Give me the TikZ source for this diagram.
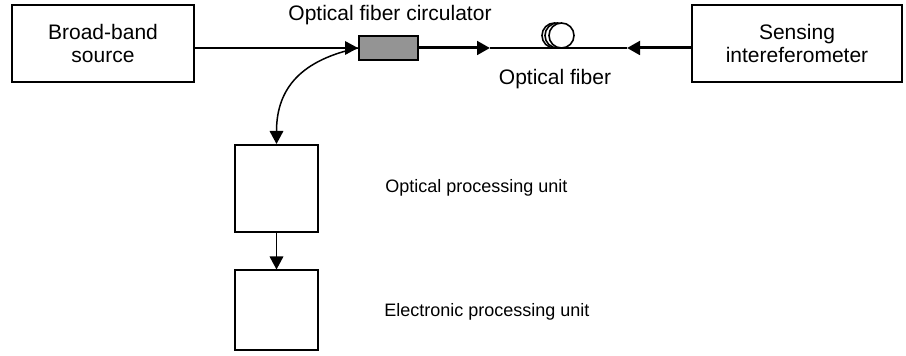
\documentclass[tikz,border=0pt]{standalone}
\usepackage{fontspec}
\setmainfont{Liberation Sans}
\usetikzlibrary{arrows.meta, calc, positioning}

\begin{document}
\begin{tikzpicture}[x=0.5pt, y=-0.5pt, font=\fontsize{10.5}{11.6}\selectfont,
    unitbox/.style={draw=black, line width=1pt, inner sep=0pt},
    circbox/.style={draw=black, line width=1pt, fill=black!42, minimum width=29.5pt, minimum height=12pt, inner sep=0pt},
    loop/.style={circle, draw=black, line width=0.8pt, fill=white, minimum size=12.5pt, inner sep=0pt},
    unitlab/.style={anchor=west, inner sep=0pt, font=\fontsize{9}{10.8}\selectfont},
    fiber/.style={line width=0.75pt, black},
    thin/.style={-{Triangle[length=6.5pt, width=6.8pt]}, line width=0.75pt, black},
    thick/.style={-{Triangle[length=6.5pt, width=6.8pt]}, line width=1.5pt, black}]

\useasboundingbox (0,0) rectangle (906,356);

%
\node[unitbox, minimum width=91pt, minimum height=38.5pt, align=center] (source) at (103,43.5) {Broad-band\\source};
\node[unitbox, minimum width=105pt, minimum height=38.5pt, align=center] (sensor) at (797,43.5) {Sensing\\intereferometer};
\node[circbox] (circ) at (388.5,48) {};
\node[unitbox, minimum width=41.5pt, minimum height=43.5pt] (opt) at (276.5,188.5) {};
\node[unitbox, minimum width=41.5pt, minimum height=40pt] (elec) at (276.5,310.5) {};

%
\node (circlab) at (390,15) {Optical fiber circulator};
\node (fiblab) at (555,79) {Optical fiber};
\node[unitlab] (optlab) at (385,188) {Optical processing unit};
\node[unitlab] (eleclab) at (384,312) {Electronic processing unit};

%
\coordinate (fwd) at (490,48);
\coordinate (back) at (627,48);

\draw[fiber] (fwd) -- (back);
\node[loop] (coil1) at (554.5,35.5) {};
\node[loop] (coil2) at (557.5,35.5) {};
\node[loop] (coil3) at (561.5,35.5) {};

%
\draw[thin] (source.east |- circ.west) -- (circ.west);
\draw[thick] (circ.east) -- (fwd);
\draw[thick] (sensor.west |- back) -- (back);
\draw[thin] (circ.west) to[out=192, in=90, looseness=1.15] (opt.north);
\draw[thin] (opt.south) -- (elec.north);
\end{tikzpicture}
\end{document}
